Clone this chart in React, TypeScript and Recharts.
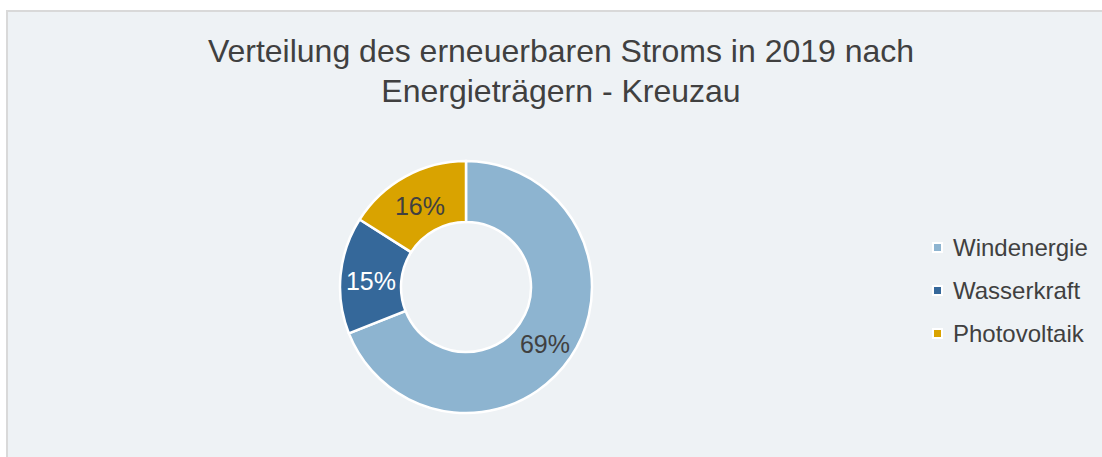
import React from "react";
import { PieChart, Pie, Cell, Legend } from "recharts";

const categories = ["Windenergie", "Wasserkraft", "Photovoltaik"];
const shares = [69, 15, 16];
const colors = ["#8DB4D0", "#35689A", "#D9A300"];
const labelColors = ["#404040", "#FFFFFF", "#404040"];
const titleLines = [
  "Verteilung des erneuerbaren Stroms in 2019 nach",
  "Energieträgern - Kreuzau",
];

const data = categories.map((name, i) => ({ name, value: shares[i] }));

const FONT = "'Liberation Sans', Arial, sans-serif";
const RAD = Math.PI / 180;

const renderLabel = (props: any) => {
  const { cx, cy, midAngle, innerRadius, outerRadius, index, value } = props;
  const r = (innerRadius + outerRadius) / 2;
  const x = cx + r * Math.cos(-midAngle * RAD);
  const y = cy + r * Math.sin(-midAngle * RAD);
  return (
    <text
      x={x}
      y={y + 3}
      fill={labelColors[index]}
      textAnchor="middle"
      dominantBaseline="central"
      fontFamily={FONT}
      fontSize={25}
    >
      {`${value}%`}
    </text>
  );
};

const renderLegend = () => (
  <div style={{ fontFamily: FONT }}>
    {categories.map((c, i) => (
      <div
        key={c}
        style={{
          display: "flex",
          alignItems: "center",
          height: 43,
          fontSize: 24,
          color: "#404040",
        }}
      >
        <span
          style={{
            display: "inline-block",
            width: 7,
            height: 7,
            background: colors[i],
            border: "2px solid #fff",
            marginRight: 10,
          }}
        />
        {c}
      </div>
    ))}
  </div>
);

export default function App() {
  return (
    <div
      style={{
        position: "absolute",
        left: 0,
        top: 0,
        width: 1102,
        height: 457,
        background: "#ffffff",
        overflow: "hidden",
      }}
    >
      <div
        style={{
          position: "absolute",
          left: 6,
          top: 10,
          width: 1096,
          height: 447,
          background: "#EEF2F5",
          borderLeft: "2px solid #D9D9D9",
          borderTop: "2px solid #D9D9D9",
        }}
      />
      <div
        style={{
          position: "absolute",
          left: 0,
          top: 31,
          width: 1122,
          textAlign: "center",
          fontFamily: FONT,
          fontSize: 32,
          lineHeight: "40px",
          color: "#404040",
        }}
      >
        {titleLines.map((t) => (
          <div key={t}>{t}</div>
        ))}
      </div>
      <div style={{ position: "absolute", left: 0, top: 0 }}>
        <PieChart
          width={1102}
          height={457}
          margin={{ top: 0, right: 0, bottom: 0, left: 0 }}
        >
          <Pie
            data={data}
            dataKey="value"
            nameKey="name"
            cx={466}
            cy={287}
            innerRadius={65}
            outerRadius={126}
            startAngle={90}
            endAngle={-270}
            stroke="#ffffff"
            strokeWidth={2.5}
            label={renderLabel}
            labelLine={false}
            isAnimationActive={false}
          >
            {data.map((d, i) => (
              <Cell key={d.name} fill={colors[i]} />
            ))}
          </Pie>
          <Legend
            content={renderLegend}
            wrapperStyle={{ position: "absolute", left: 932, top: 226, width: 170 }}
          />
        </PieChart>
      </div>
    </div>
  );
}
